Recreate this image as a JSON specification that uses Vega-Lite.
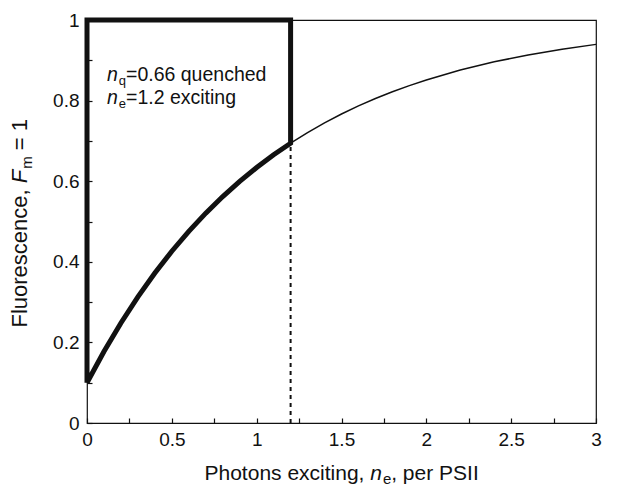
{
  "$schema": "https://vega.github.io/schema/vega-lite/v6.json",
  "width": 509,
  "height": 403,
  "autosize": "none",
  "padding": {"left": 87, "top": 20, "right": 32, "bottom": 63},
  "background": "white",
  "config": {
    "font": "Liberation Sans",
    "view": {"stroke": "#111", "strokeWidth": 1.2},
    "text": {"font": "Liberation Sans", "color": "#111", "align": "left", "baseline": "alphabetic"},
    "axis": {
      "domain": false,
      "offset": -5,
      "tickColor": "#111",
      "tickSize": 5,
      "tickWidth": 1.2,
      "labelColor": "#111",
      "labelFont": "Liberation Sans",
      "labelFontSize": 19,
      "labelFlush": false,
      "labelOverlap": false,
      "grid": false,
      "title": null
    },
    "axisX": {"labelPadding": 7},
    "axisY": {"labelPadding": 8}
  },
  "datasets": {
    "curve": [
      {"n": 0, "F": 0.1}, {"n": 0.1, "F": 0.1775}, {"n": 0.2, "F": 0.2482}, {"n": 0.3, "F": 0.3129},
      {"n": 0.4, "F": 0.3721}, {"n": 0.5, "F": 0.4262}, {"n": 0.6, "F": 0.4756}, {"n": 0.7, "F": 0.5207},
      {"n": 0.8, "F": 0.5619}, {"n": 0.9, "F": 0.5996}, {"n": 1.0, "F": 0.6341}, {"n": 1.1, "F": 0.6656},
      {"n": 1.2, "F": 0.6943}, {"n": 1.3, "F": 0.7206}, {"n": 1.4, "F": 0.7447}, {"n": 1.5, "F": 0.7667},
      {"n": 1.6, "F": 0.7868}, {"n": 1.7, "F": 0.8051}, {"n": 1.8, "F": 0.8219}, {"n": 1.9, "F": 0.8372},
      {"n": 2.0, "F": 0.8512}, {"n": 2.2, "F": 0.8757}, {"n": 2.4, "F": 0.8962}, {"n": 2.6, "F": 0.9133},
      {"n": 2.8, "F": 0.9276}, {"n": 3.0, "F": 0.9395}
    ],
    "box": [
      {"n": 0, "F": 0.1, "o": 0}, {"n": 0.1, "F": 0.1775, "o": 1}, {"n": 0.2, "F": 0.2482, "o": 2},
      {"n": 0.3, "F": 0.3129, "o": 3}, {"n": 0.4, "F": 0.3721, "o": 4}, {"n": 0.5, "F": 0.4262, "o": 5},
      {"n": 0.6, "F": 0.4756, "o": 6}, {"n": 0.7, "F": 0.5207, "o": 7}, {"n": 0.8, "F": 0.5619, "o": 8},
      {"n": 0.9, "F": 0.5996, "o": 9}, {"n": 1.0, "F": 0.6341, "o": 10}, {"n": 1.1, "F": 0.6656, "o": 11},
      {"n": 1.2, "F": 0.6943, "o": 12}, {"n": 1.2, "F": 1.0, "o": 13}, {"n": 0, "F": 1.0, "o": 14},
      {"n": 0, "F": 0.1, "o": 15}
    ],
    "dash": [{"n": 1.2, "F": 0}, {"n": 1.2, "F": 0.6943}]
  },
  "layer": [
    {
      "data": {"name": "curve"},
      "mark": {"type": "line", "color": "#111", "strokeWidth": 1.5},
      "encoding": {
        "x": {"field": "n", "type": "quantitative", "scale": {"domain": [0, 3], "nice": false},
              "axis": {"values": [0, 0.25, 0.5, 0.75, 1, 1.25, 1.5, 1.75, 2, 2.25, 2.5, 2.75, 3], "format": "~g",
                       "labelExpr": "(datum.value * 2) % 1 === 0 ? datum.label : ''"}},
        "y": {"field": "F", "type": "quantitative", "scale": {"domain": [0, 1], "nice": false},
              "axis": {"values": [0, 0.1, 0.2, 0.3, 0.4, 0.5, 0.6, 0.7, 0.8, 0.9, 1], "format": "~g",
                       "labelExpr": "round(datum.value * 10) % 2 === 0 ? datum.label : ''"}}
      }
    },
    {
      "data": {"name": "dash"},
      "mark": {"type": "line", "color": "#111", "strokeWidth": 2, "strokeDash": [4, 4]},
      "encoding": {
        "x": {"field": "n", "type": "quantitative"},
        "y": {"field": "F", "type": "quantitative"}
      }
    },
    {
      "data": {"name": "box"},
      "mark": {"type": "line", "color": "#111", "strokeWidth": 5, "strokeJoin": "miter", "clip": false},
      "encoding": {
        "x": {"field": "n", "type": "quantitative"},
        "y": {"field": "F", "type": "quantitative"},
        "order": {"field": "o", "type": "quantitative"}
      }
    },
    {
      "data": {"values": [{"t": "Photons exciting,"}]},
      "mark": {"type": "text", "fontSize": 21, "dx": -137, "dy": 57},
      "encoding": {"x": {"datum": 1.5, "type": "quantitative"}, "y": {"datum": 0, "type": "quantitative"}, "text": {"field": "t"}}
    },
    {
      "data": {"values": [{"t": "n"}]},
      "mark": {"type": "text", "fontSize": 21, "fontStyle": "italic", "dx": 28.7, "dy": 57},
      "encoding": {"x": {"datum": 1.5, "type": "quantitative"}, "y": {"datum": 0, "type": "quantitative"}, "text": {"field": "t"}}
    },
    {
      "data": {"values": [{"t": "e"}]},
      "mark": {"type": "text", "fontSize": 15, "dx": 41.4, "dy": 61},
      "encoding": {"x": {"datum": 1.5, "type": "quantitative"}, "y": {"datum": 0, "type": "quantitative"}, "text": {"field": "t"}}
    },
    {
      "data": {"values": [{"t": ", per PSII"}]},
      "mark": {"type": "text", "fontSize": 21, "dx": 49.7, "dy": 57},
      "encoding": {"x": {"datum": 1.5, "type": "quantitative"}, "y": {"datum": 0, "type": "quantitative"}, "text": {"field": "t"}}
    },
    {
      "data": {"values": [{"t": "Fluorescence,"}]},
      "mark": {"type": "text", "angle": 270, "fontSize": 22, "dx": -106, "dy": -60},
      "encoding": {"x": {"datum": 0, "type": "quantitative"}, "y": {"datum": 0.5, "type": "quantitative"}, "text": {"field": "t"}}
    },
    {
      "data": {"values": [{"t": "F"}]},
      "mark": {"type": "text", "angle": 270, "fontSize": 22, "fontStyle": "italic", "dx": 38.3, "dy": -60},
      "encoding": {"x": {"datum": 0, "type": "quantitative"}, "y": {"datum": 0.5, "type": "quantitative"}, "text": {"field": "t"}}
    },
    {
      "data": {"values": [{"t": "m"}]},
      "mark": {"type": "text", "angle": 270, "fontSize": 15, "dx": 52.7, "dy": -55},
      "encoding": {"x": {"datum": 0, "type": "quantitative"}, "y": {"datum": 0.5, "type": "quantitative"}, "text": {"field": "t"}}
    },
    {
      "data": {"values": [{"t": "= 1"}]},
      "mark": {"type": "text", "angle": 270, "fontSize": 22, "dx": 71.3, "dy": -60},
      "encoding": {"x": {"datum": 0, "type": "quantitative"}, "y": {"datum": 0.5, "type": "quantitative"}, "text": {"field": "t"}}
    },
    {
      "data": {"values": [{"t": "n"}]},
      "mark": {"type": "text", "fontSize": 19.5, "fontStyle": "italic", "dx": 20, "dy": 61},
      "encoding": {"x": {"datum": 0, "type": "quantitative"}, "y": {"datum": 1, "type": "quantitative"}, "text": {"field": "t"}}
    },
    {
      "data": {"values": [{"t": "q"}]},
      "mark": {"type": "text", "fontSize": 13, "dx": 31.8, "dy": 65},
      "encoding": {"x": {"datum": 0, "type": "quantitative"}, "y": {"datum": 1, "type": "quantitative"}, "text": {"field": "t"}}
    },
    {
      "data": {"values": [{"t": "=0.66 quenched"}]},
      "mark": {"type": "text", "fontSize": 19.5, "dx": 39, "dy": 61},
      "encoding": {"x": {"datum": 0, "type": "quantitative"}, "y": {"datum": 1, "type": "quantitative"}, "text": {"field": "t"}}
    },
    {
      "data": {"values": [{"t": "n"}]},
      "mark": {"type": "text", "fontSize": 19.5, "fontStyle": "italic", "dx": 20, "dy": 84},
      "encoding": {"x": {"datum": 0, "type": "quantitative"}, "y": {"datum": 1, "type": "quantitative"}, "text": {"field": "t"}}
    },
    {
      "data": {"values": [{"t": "e"}]},
      "mark": {"type": "text", "fontSize": 13, "dx": 31.8, "dy": 88},
      "encoding": {"x": {"datum": 0, "type": "quantitative"}, "y": {"datum": 1, "type": "quantitative"}, "text": {"field": "t"}}
    },
    {
      "data": {"values": [{"t": "=1.2 exciting"}]},
      "mark": {"type": "text", "fontSize": 19.5, "dx": 39, "dy": 84},
      "encoding": {"x": {"datum": 0, "type": "quantitative"}, "y": {"datum": 1, "type": "quantitative"}, "text": {"field": "t"}}
    }
  ]
}
